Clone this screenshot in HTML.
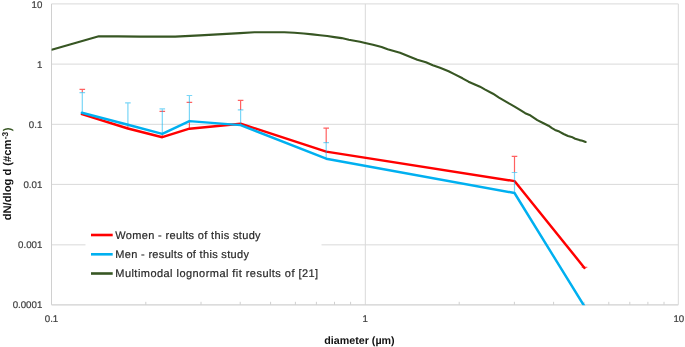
<!DOCTYPE html>
<html><head><meta charset="utf-8">
<style>
html,body{margin:0;padding:0;background:#fff;}
body{width:685px;height:347px;overflow:hidden;}
svg{display:block;filter:blur(0.3px);font-family:"Liberation Sans",sans-serif;will-change:transform;-webkit-font-smoothing:antialiased;text-rendering:geometricPrecision;}
</style></head>
<body>
<svg width="685" height="347" viewBox="0 0 685 347">
<rect x="0" y="0" width="685" height="347" fill="#fff"/>
<!-- gridlines -->
<g stroke="#d9d9d9" stroke-width="1" fill="none">
<path d="M51.5 3.9H678.3M51.5 64.1H678.3M51.5 124.3H678.3M51.5 184.4H678.3M51.5 244.85H678.3"/>
<path d="M365.3 3.9V304.8M678.3 3.9V304.8"/>
</g>
<g stroke="#d0d0d0" stroke-width="1" fill="none">
<path d="M51.5 3.9V304.8"/><path d="M51.5 304.9H678.3" stroke-width="1.3"/>
<path d="M145.8 301.8V304.8M201 301.8V304.8M240.2 301.8V304.8M270.6 301.8V304.8M295.4 301.8V304.8M316.4 301.8V304.8M334.5 301.8V304.8M350.6 301.8V304.8M459.2 301.8V304.8M514.4 301.8V304.8M553.6 301.8V304.8M584 301.8V304.8M608.8 301.8V304.8M629.8 301.8V304.8M647.9 301.8V304.8M664 301.8V304.8"/>
</g>
<!-- y tick labels -->
<g fill="#404040" stroke="#404040" stroke-width="0.2" font-size="9.7" text-anchor="end">
<text x="42.3" y="7.7">10</text>
<text x="42.3" y="67.8">1</text>
<text x="42.3" y="127.9">0.1</text>
<text x="42.3" y="188">0.01</text>
<text x="42.3" y="248.1">0.001</text>
<text x="42.3" y="308.3">0.0001</text>
</g>
<!-- x tick labels -->
<g fill="#404040" stroke="#404040" stroke-width="0.2" font-size="9.7" text-anchor="middle">
<text x="51.5" y="322.2">0.1</text>
<text x="365.3" y="322.2">1</text>
<text x="678.8" y="322.2">10</text>
</g>
<!-- axis titles -->
<text x="359.5" y="343.9" font-size="10.7" font-weight="bold" fill="#111" text-anchor="middle">diameter (µm)</text>
<text transform="translate(11.3,173.9) rotate(-90)" font-size="11.2" font-weight="bold" fill="#111" text-anchor="middle">dN/dlog d (#cm<tspan font-size="8.4" dy="-3.5" dx="0.3">-3</tspan><tspan dy="3.5" dx="0.6" fill="#375623">)</tspan></text>

<!-- series -->
<polyline fill="none" stroke="#ff0000" stroke-width="2.45" stroke-linejoin="round" stroke-linecap="round" points="81.9,114.1 127.9,128.5 162.3,137.2 189.4,128.7 240.6,123.7 326.2,151.6 514.5,181.1 584.5,267.9"/>
<!-- error bars: red (women) -->
<g stroke="#ff0000" stroke-opacity="0.62" stroke-width="1.2" fill="none">
<path d="M82.3 89.3V92.6M82.3 112.9V114.3M79.5 89.3H85.1"/>
<path d="M127.9 124.9V128.7"/>
<path d="M162.3 134.1V137.4M159.5 111.4H165.1"/>
<path d="M189.4 121.3V128.9M186.6 102.3H192.2"/>
<path d="M240.6 100.3V109.9M237.8 100.3H243.4"/>
<path d="M326.2 128.1V142.7M323.4 128.1H329.0"/>
<path d="M514.5 156.4V172.5M511.7 156.4H517.3"/>
<path d="M581.7 267.3H587.3"/>
</g>
<clipPath id="pc"><rect x="40" y="0" width="645" height="305.2"/></clipPath>
<polyline clip-path="url(#pc)" fill="none" stroke="#00b0f0" stroke-width="2.45" stroke-linejoin="round" stroke-linecap="round" points="81.9,112.7 127.9,124.7 162.3,133.9 189.4,121.1 240.6,125.1 326.2,158.7 514.5,193.0 584.2,306.0"/>
<!-- error bars: blue (men) -->
<g stroke="#00b0f0" stroke-opacity="0.52" stroke-width="1.2" fill="none">
<path d="M82.3 112.9V92.6M79.5 92.6H85.1"/>
<path d="M127.9 124.9V102.8M125.1 102.8H130.7"/>
<path d="M162.3 134.1V108.8M159.5 108.8H165.1"/>
<path d="M189.4 121.3V95.5M186.6 95.5H192.2"/>
<path d="M240.6 125.3V109.9M237.8 109.9H243.4"/>
<path d="M326.2 158.9V142.7M323.4 142.7H329.0"/>
<path d="M514.5 193.2V172.5M511.7 172.5H517.3"/>
</g>

<clipPath id="pc2"><rect x="51.6" y="0" width="640" height="347"/></clipPath>
<polyline clip-path="url(#pc2)" fill="none" stroke="#375623" stroke-width="2.1" stroke-linejoin="round" stroke-linecap="round" points="51.7,49.7 98.8,36.2 118,36.4 140,36.6 175.1,36.6 200,35.4 240,33.1 254.4,32.2 284.3,32.2 294.4,32.8 303.8,33.5 312.4,34.4 320,35.2 327.2,36 334.4,37.1 341.6,38.1 348.8,39.8 360,41.7 365.2,42.9 373,44.7 381.6,47.1 387.6,49.3 400,52.7 408.6,56.2 417.3,59.7 425.9,62.3 432.8,65.3 440,67.8 448.6,71.3 453.8,73.9 462.5,78.3 468.5,81.7 480,86.7 485.2,89.6 493,93.7 499,97.6 508.5,103.2 514.6,106.6 520,109.9 525.2,113.2 529.5,114.9 537.3,120.1 542.5,122.7 548.5,125.7 552,128.2 555,129.9 559.3,131.6 563.6,134 568,136 571.6,136.9 575.2,138.7 579.5,140.1 582.4,140.7 585.6,142"/>

<!-- legend -->
<rect x="85.5" y="225" width="236" height="58" fill="#fff"/>
<g stroke-width="2.6">
<path d="M91 235H112.7" stroke="#ff0000"/>
<path d="M91 254.3H112.7" stroke="#00b0f0"/>
<path d="M91 273.5H112.7" stroke="#375623"/>
</g>
<g fill="#2a2a2a" stroke="#2a2a2a" stroke-width="0.2" font-size="11">
<text x="115.3" y="238.9" letter-spacing="0.34">Women - reults of this study</text>
<text x="115.3" y="258.2" letter-spacing="0.32">Men - results of this study</text>
<text x="115.3" y="277.4" letter-spacing="0.45">Multimodal lognormal fit results of [21]</text>
</g>
</svg>
</body></html>
